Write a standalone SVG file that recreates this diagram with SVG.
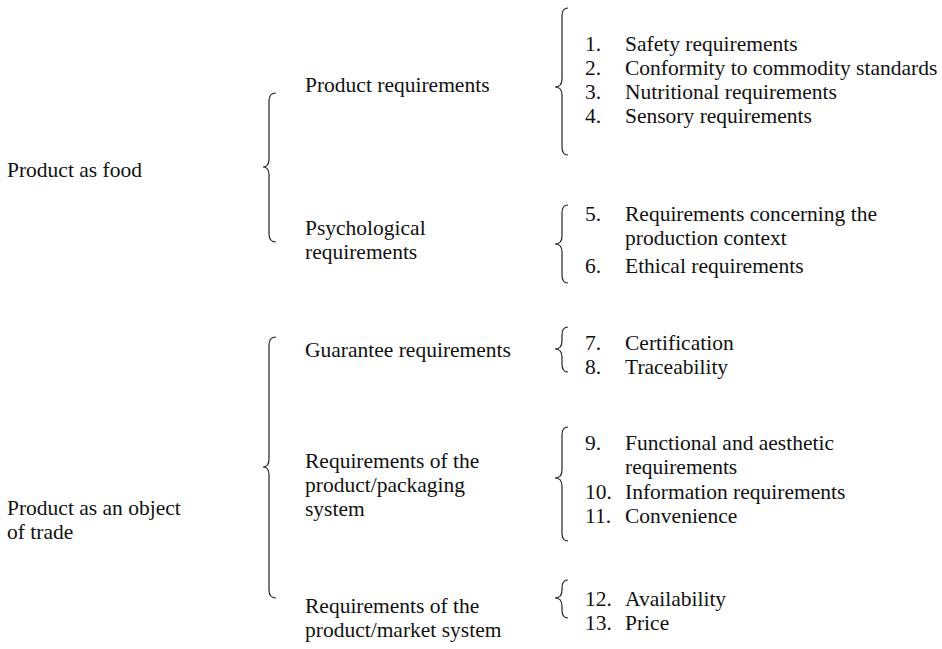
<svg xmlns="http://www.w3.org/2000/svg" width="942" height="649" viewBox="0 0 942 649">
<style>
text{font-family:"Liberation Serif","Times New Roman",serif;font-size:21.5px;fill:#111}
.br{fill:none;stroke:#222;stroke-width:1.2}
</style>
<rect width="942" height="649" fill="#fff"/>
<g id="connectors">
<path class="br" d="M276,93 Q269,93 269,101 L269,159 Q269,167 263,167 Q269,167 269,175 L269,234 Q269,242 276,242"/>
<path class="br" d="M276,337 Q269,337 269,345 L269,459 Q269,467 263,467 Q269,467 269,475 L269,590 Q269,598 276,598"/>
<path class="br" d="M568,8 Q562,8 562,16 L562,79 Q562,87 555,87 Q562,87 562,95 L562,147 Q562,155 568,155"/>
<path class="br" d="M568,205 Q562,205 562,213 L562,236 Q562,244 555,244 Q562,244 562,252 L562,275 Q562,283 568,283"/>
<path class="br" d="M568,327 Q562,327 562,335 L562,341 Q562,349 555,349 Q562,349 562,357 L562,364 Q562,372 568,372"/>
<path class="br" d="M568,427 Q562,427 562,435 L562,470 Q562,478 555,478 Q562,478 562,486 L562,533 Q562,541 568,541"/>
<path class="br" d="M568,580 Q562,580 562,588 L562,590 Q562,598 555,598 Q562,598 562,606 L562,610 Q562,618 568,618"/>
</g>
<g id="food"><text x="7" y="177">Product as food</text></g>
<g id="trade"><text x="7" y="515">Product as an object</text><text x="7" y="539">of trade</text></g>
<g id="product-req"><text x="305" y="92">Product requirements</text></g>
<g id="psych-req"><text x="305" y="235">Psychological</text><text x="305" y="259">requirements</text></g>
<g id="guarantee-req"><text x="305" y="357">Guarantee requirements</text></g>
<g id="packaging-req"><text x="305" y="468">Requirements of the</text><text x="305" y="492">product/packaging</text><text x="305" y="516">system</text></g>
<g id="market-req"><text x="305" y="613">Requirements of the</text><text x="305" y="637">product/market system</text></g>
<g id="list-product">
<text x="585" y="51">1.</text><text x="625" y="51">Safety requirements</text>
<text x="585" y="75">2.</text><text x="625" y="75">Conformity to commodity standards</text>
<text x="585" y="99">3.</text><text x="625" y="99">Nutritional requirements</text>
<text x="585" y="123">4.</text><text x="625" y="123">Sensory requirements</text>
</g>
<g id="list-psych">
<text x="585" y="221">5.</text><text x="625" y="221">Requirements concerning the</text>
<text x="625" y="245">production context</text>
<text x="585" y="273">6.</text><text x="625" y="273">Ethical requirements</text>
</g>
<g id="list-guarantee">
<text x="585" y="350">7.</text><text x="625" y="350">Certification</text>
<text x="585" y="374">8.</text><text x="625" y="374">Traceability</text>
</g>
<g id="list-packaging">
<text x="585" y="450">9.</text><text x="625" y="450">Functional and aesthetic</text>
<text x="625" y="474">requirements</text>
<text x="585" y="499">10.</text><text x="625" y="499">Information requirements</text>
<text x="585" y="523">11.</text><text x="625" y="523">Convenience</text>
</g>
<g id="list-market">
<text x="585" y="606">12.</text><text x="625" y="606">Availability</text>
<text x="585" y="630">13.</text><text x="625" y="630">Price</text>
</g>
</svg>
